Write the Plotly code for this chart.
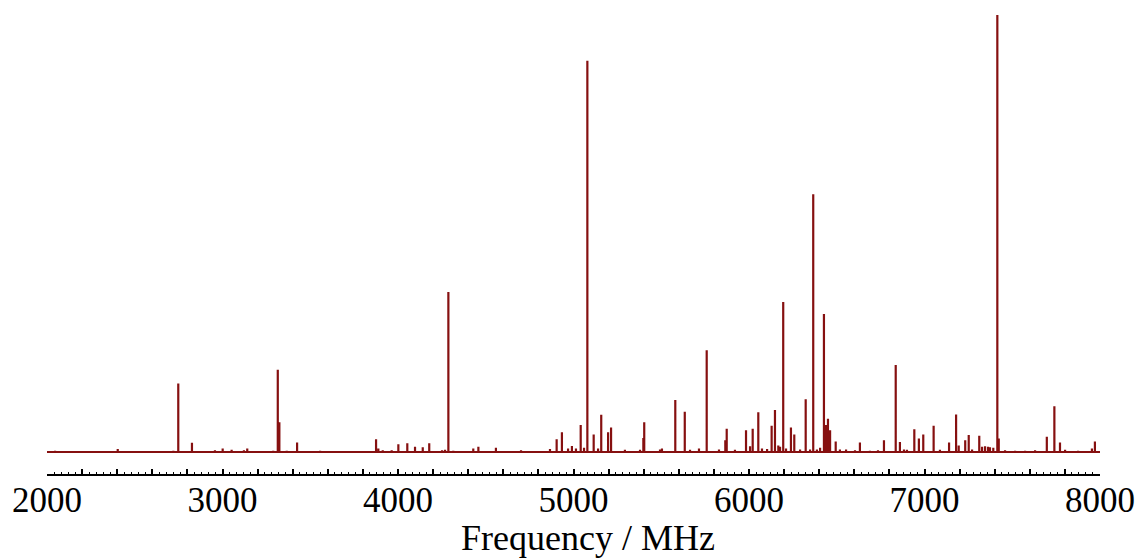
import plotly.graph_objects as go

# Line frequencies (MHz) and relative intensities
freq = [2046, 2121, 2403, 2720, 2748, 2826, 2957, 3001, 3052, 3122, 3141, 3289,
        3315, 3324, 3366, 3425, 3556, 3875, 3888, 3913, 3964, 4002, 4053, 4097,
        4141, 4178, 4251, 4268, 4287, 4315, 4429, 4458, 4558, 4701, 4866, 4904,
        4934, 4969, 4991, 5014, 5041, 5060, 5079, 5115, 5140, 5158, 5197, 5214,
        5293, 5379, 5398, 5403, 5493, 5504, 5580, 5634, 5664, 5715, 5759, 5829,
        5865, 5873, 5920, 5983, 6006, 6021, 6053, 6074, 6103, 6129, 6148, 6167,
        6177, 6195, 6211, 6239, 6258, 6291, 6323, 6348, 6366, 6387, 6405, 6427,
        6439, 6450, 6462, 6494, 6518, 6553, 6604, 6632, 6689, 6735, 6769, 6836,
        6860, 6883, 6900, 6942, 6968, 6993, 7052, 7088, 7140, 7180, 7195, 7232,
        7252, 7271, 7312, 7328, 7345, 7362, 7373, 7392, 7415, 7423, 7459, 7516,
        7573, 7630, 7697, 7740, 7772, 7801, 7875, 7954, 7971]
intensity = [0.3, 0.2, 0.7, 0.3, 15.7, 2.1, 0.4, 0.8, 0.5, 0.4, 0.8, 0.3,
             18.8, 6.8, 0.3, 2.2, 0.3, 2.9, 0.8, 0.4, 0.4, 1.8, 2.0, 1.2,
             1.1, 2.0, 0.4, 0.5, 36.6, 0.3, 0.8, 1.2, 1.0, 0.4, 0.7, 2.9,
             4.5, 0.8, 1.4, 0.8, 6.2, 1.0, 89.5, 4.0, 0.8, 8.5, 4.5, 5.6,
             0.5, 0.5, 3.2, 6.8, 0.6, 0.8, 11.9, 9.2, 0.5, 0.8, 23.3, 0.6,
             2.7, 5.3, 0.5, 5.0, 1.3, 5.3, 9.1, 0.8, 0.7, 6.0, 9.6, 1.5,
             1.2, 34.3, 0.8, 5.6, 4.0, 0.6, 12.1, 0.6, 59.0, 0.6, 1.0, 31.6,
             6.2, 7.6, 5.0, 2.4, 0.6, 0.6, 0.4, 2.2, 0.3, 0.4, 2.7, 19.9,
             2.3, 0.6, 0.5, 5.2, 3.1, 4.0, 6.0, 0.5, 2.2, 8.6, 1.5, 2.7,
             3.9, 0.6, 3.7, 1.2, 1.3, 1.2, 1.1, 1.0, 100.0, 3.1, 0.4, 0.3,
             0.3, 0.4, 3.5, 10.5, 2.2, 0.5, 0.3, 0.8, 2.4]

x_range = [2000, 8000]
major_ticks = list(range(2000, 8001, 200))
tick_text = [str(v) if v % 1000 == 0 else "" for v in major_ticks]
x_title = "Frequency / MHz"

# Build a stick spectrum from the data
xs, ys = [x_range[0]], [0]
for f, h in zip(freq, intensity):
    xs += [f, f, f]
    ys += [0, h, 0]
xs.append(x_range[1])
ys.append(0)

color = "#861010"
fig = go.Figure()
fig.add_trace(go.Scatter(x=xs, y=ys, mode="lines",
                         line=dict(color=color, width=2.2), hoverinfo="skip",
                         showlegend=False))

fig.update_layout(
    width=1145, height=558,
    margin=dict(l=39, r=53, t=2, b=92, autoexpand=False),
    plot_bgcolor="white", paper_bgcolor="white",
    font=dict(family="Liberation Serif, Times New Roman, serif", color="black"),
    xaxis=dict(range=x_range, showgrid=False, zeroline=False,
               showline=True, linecolor="black", linewidth=2,
               ticks="inside", ticklen=5, tickwidth=1.5, tickcolor="black",
               tickvals=major_ticks, ticktext=tick_text, ticklabelstandoff=-6,
               tickfont=dict(size=35, family="Liberation Serif", color="black"),
               minor=dict(ticks="inside", dtick=40, ticklen=2.5, tickwidth=1.2,
                          tickcolor="black", showgrid=False)),
    yaxis=dict(range=[-5.03, 101.14], visible=False, showgrid=False,
               zeroline=False),
    annotations=[dict(text=x_title, xref="paper", yref="paper",
                      x=0.514, y=-0.138, xanchor="center", yanchor="middle",
                      showarrow=False,
                      font=dict(size=36, family="Liberation Serif", color="black"))],
)

fig.write_html("out.html")
